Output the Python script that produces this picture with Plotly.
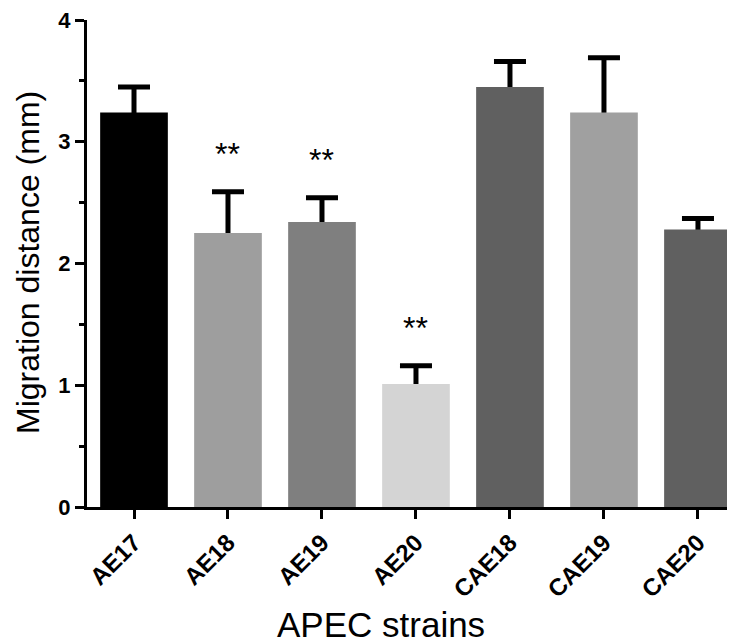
import plotly.graph_objects as go

strains = ["AE17", "AE18", "AE19", "AE20", "CAE18", "CAE19", "CAE20"]
migration_mm = [3.24, 2.25, 2.34, 1.01, 3.45, 3.24, 2.28]
sem_mm = [0.21, 0.34, 0.20, 0.15, 0.21, 0.45, 0.09]
bar_colors = ["#000000", "#9e9e9e", "#7f7f7f", "#d4d4d4", "#606060", "#a0a0a0", "#606060"]
significance = ["", "**", "**", "**", "", "", ""]
y_ticks = [0, 1, 2, 3, 4]

FONT = "Liberation Sans, Arial, sans-serif"
OFF = 8                      # page body margin of the browser
W, H = 735 - OFF, 644 - OFF  # figure size so it fills the window
L, T, B = 87 - OFF, 20 - OFF, 137

fig = go.Figure()

# error bars (drawn behind the bars, so only the upper part shows)
fig.add_trace(go.Bar(
    x=strains, y=migration_mm, width=0.72,
    marker=dict(color="rgba(0,0,0,0)", line=dict(width=0)),
    error_y=dict(type="data", symmetric=False, array=sem_mm,
                 arrayminus=[0.06] * len(sem_mm),
                 color="#000000", thickness=5, width=16),
    hoverinfo="skip", showlegend=False,
))
fig.add_trace(go.Bar(
    x=strains, y=migration_mm, width=0.72,
    marker=dict(color=bar_colors, line=dict(width=0)),
    showlegend=False,
))

for s, v, e, sig in zip(strains, migration_mm, sem_mm, significance):
    if sig:
        fig.add_annotation(x=s, y=v + e + 0.31, text=sig, showarrow=False,
                           xref="x", yref="y", yanchor="middle",
                           font=dict(family=FONT, size=32, color="#000000"))

plot_w = W - L
plot_h = H - T - B
def px(xs):  # screen x -> paper
    return (xs - OFF - L) / plot_w
def py(ys):  # screen y -> paper
    return (H - B - (ys - OFF)) / plot_h

fig.add_annotation(text="Migration distance (mm)", textangle=-90, showarrow=False,
                   xref="paper", yref="paper", x=px(28), y=py(263),
                   xanchor="center", yanchor="middle",
                   font=dict(family=FONT, size=32, color="#000000"))
fig.add_annotation(text="APEC strains", showarrow=False,
                   xref="paper", yref="paper", x=px(381), y=py(624),
                   xanchor="center", yanchor="middle",
                   font=dict(family=FONT, size=35, color="#000000"))

fig.update_layout(
    width=W, height=H,
    margin=dict(l=L, r=0, t=T, b=B, pad=0),
    paper_bgcolor="white", plot_bgcolor="white",
    barmode="overlay",
    font=dict(family=FONT, color="#000000"),
    xaxis=dict(
        range=[-0.5, 6.394], showgrid=False, zeroline=False,
        showline=True, linecolor="#000000", linewidth=3,
        ticks="outside", ticklen=9, tickwidth=3, tickcolor="#000000",
        tickangle=-45,
        tickfont=dict(family=FONT, size=24, color="#000000", weight="bold"),
    ),
    yaxis=dict(
        range=[0, 4], showgrid=False, zeroline=False,
        showline=True, linecolor="#000000", linewidth=3,
        tickmode="array", tickvals=y_ticks, ticktext=[str(t) for t in y_ticks],
        ticks="outside", ticklen=9, tickwidth=3, tickcolor="#000000",
        ticklabeloverflow="allow",
        tickfont=dict(family=FONT, size=22, color="#000000", weight="bold"),
        minor=dict(tickmode="array", tickvals=[0.5, 1.5, 2.5, 3.5], ticks="outside",
                   ticklen=5, tickwidth=3, tickcolor="#000000"),
    ),
)

fig.write_html("out.html")
